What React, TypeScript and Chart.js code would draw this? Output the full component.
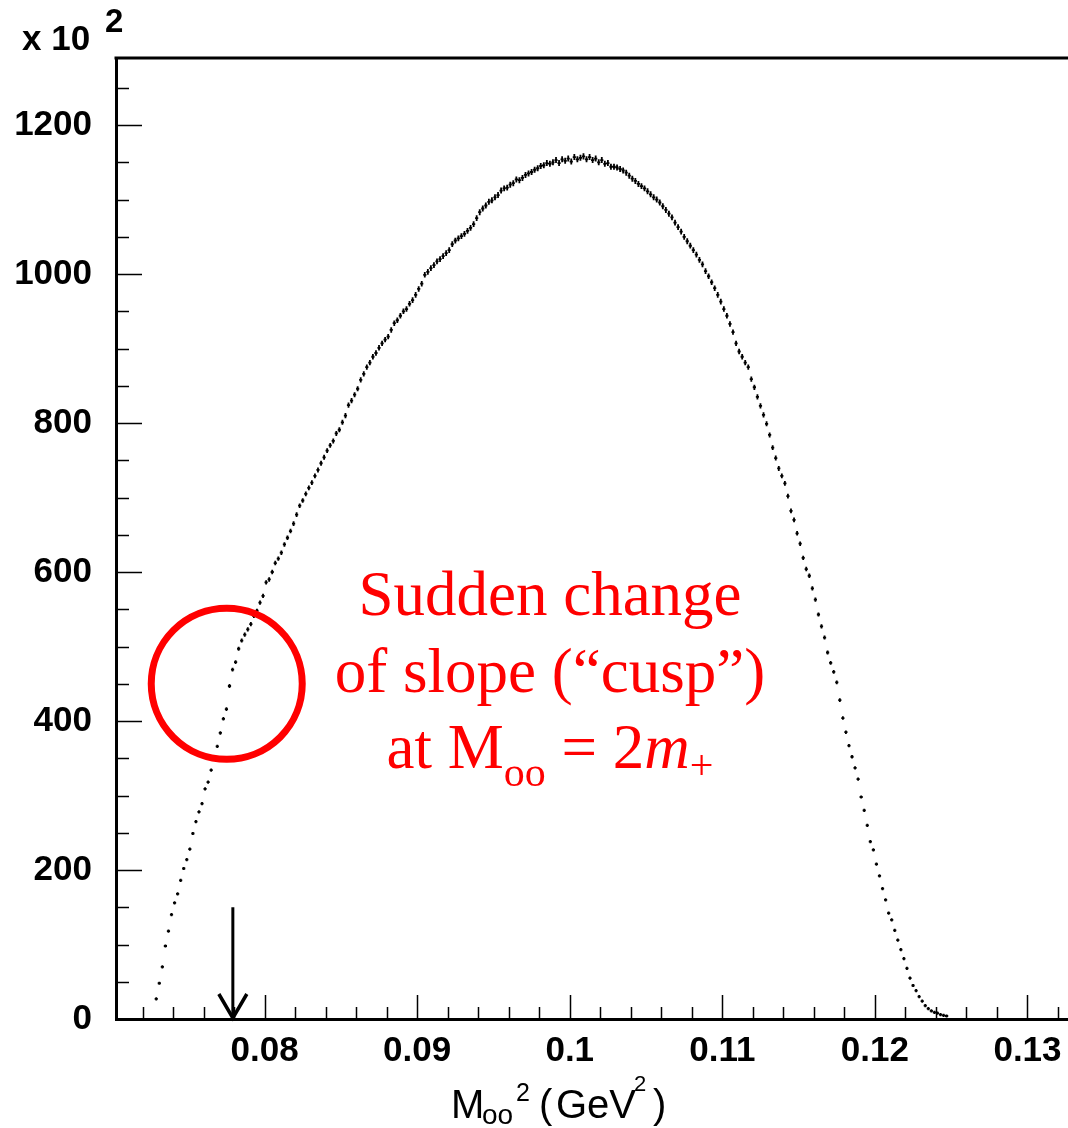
import React, { useEffect, useRef } from "react";
import { Chart, registerables } from "chart.js";

Chart.register(...registerables);

// ---- data (histogram, units of 10^2 entries) ----
const BIN_START = 0.0729; // centre of first bin (GeV^2)
const BIN_WIDTH = 0.0002; // GeV^2
const counts = [
  27, 48, 70, 98, 118, 140, 156, 168, 186, 202,
  214, 228, 249, 265, 278, 289, 309, 318, 334, 352,
  366, 384, 403, 416, 447, 469, 479, 497, 508, 516,
  523, 530, 541, 548, 559, 568, 586, 590, 600, 612,
  618, 626, 637, 646, 655, 665, 677, 689, 696, 705,
  713, 720, 729, 737, 746, 754, 763, 770, 776, 786,
  791, 801, 810, 824, 830, 838, 846, 858, 866, 875,
  881, 889, 894, 901, 907, 912, 916, 925, 934, 938,
  944, 950, 953, 960, 965, 972, 980, 987, 999, 1003,
  1008, 1012, 1017, 1020, 1024, 1028, 1032, 1040, 1045, 1048,
  1051, 1054, 1058, 1062, 1067, 1075, 1083, 1088, 1092, 1097,
  1099, 1103, 1106, 1112, 1115, 1116, 1120, 1122, 1127, 1126,
  1129, 1133, 1135, 1137, 1140, 1142, 1145, 1146, 1149, 1148,
  1150, 1153, 1149, 1154, 1152, 1155, 1151, 1157, 1154, 1156,
  1158, 1154, 1157, 1153, 1155, 1150, 1153, 1148, 1149, 1144,
  1144, 1143, 1141, 1139, 1136, 1132, 1128, 1125, 1121, 1118,
  1115, 1111, 1107, 1103, 1100, 1096, 1091, 1086, 1081, 1076,
  1069, 1063, 1057, 1050, 1044, 1038, 1032, 1026, 1019, 1013,
  1004, 997, 989, 981, 972, 963, 953, 944, 933, 922,
  907, 896, 889, 881, 875, 859, 848, 835, 823, 811,
  799, 784, 767, 753, 739, 729, 719, 702, 682, 670,
  652, 638, 619, 604, 595, 578, 563, 543, 527, 512,
  492, 478, 466, 452, 428, 404, 385, 367, 352, 337,
  322, 298, 280, 260, 238, 227, 208, 192, 175, 160,
  142, 133, 119, 106, 93, 81, 68, 55, 45, 38,
  30, 24, 18, 14, 11, 9, 8, 6, 5, 4,
];

const xTicks = [0.08, 0.09, 0.1, 0.11, 0.12, 0.13];
const xTickLabels = ["0.08", "0.09", "0.1", "0.11", "0.12", "0.13"];
const yTicks = [0, 200, 400, 600, 800, 1000, 1200];
const yTickLabels = ["0", "200", "400", "600", "800", "1000", "1200"];

const X_MIN = 0.070262;
const X_MAX = 0.132655;
const Y_MAX = 1290;

const CUSP_X = 0.07792; // (2 m+)^2
const ARROW_TOP = 150;
const CIRCLE_X = 0.07752;
const CIRCLE_Y = 450;

const noteLine1 = "Sudden change";
const noteLine2 = "of slope (\u201Ccusp\u201D)";

const SANS = '"Liberation Sans", Arial, Helvetica, sans-serif';
const SERIF = '"Liberation Serif", "Times New Roman", serif';

function drawSegments(ctx: CanvasRenderingContext2D, segs: any[], startX: number, center: boolean) {
  let total = 0;
  for (const s of segs) {
    ctx.font = s.font;
    total += ctx.measureText(s.text).width;
  }
  let x = center ? startX - total / 2 : startX;
  ctx.textAlign = "left";
  ctx.textBaseline = "alphabetic";
  for (const s of segs) {
    ctx.font = s.font;
    ctx.fillText(s.text, x, s.y);
    x += ctx.measureText(s.text).width;
  }
}

const decor = {
  id: "decor",
  afterDatasetsDraw(chart: any) {
    const { ctx, chartArea: a, scales } = chart;
    const xs = scales.x;
    const ys = scales.y;
    ctx.save();

    // histogram points with error crosses
    const meta = chart.getDatasetMeta(0);
    ctx.strokeStyle = "#000";
    ctx.lineWidth = 1.8;
    ctx.beginPath();
    meta.data.forEach((pt: any, i: number) => {
      const v = counts[i];
      const cx = BIN_START + i * BIN_WIDTH;
      const hx = Math.max(1.6, (xs.getPixelForValue(cx + BIN_WIDTH / 2) - pt.x) * 0.8);
      const err = Math.sqrt(v * 100) / 100;
      const ey = Math.max(1.6, Math.abs(ys.getPixelForValue(v + err) - pt.y) * 1.2);
      ctx.moveTo(pt.x - hx, pt.y);
      ctx.lineTo(pt.x + hx, pt.y);
      ctx.moveTo(pt.x, pt.y - ey);
      ctx.lineTo(pt.x, pt.y + ey);
    });
    ctx.stroke();

    // inward tick marks
    ctx.lineWidth = 1.5;
    ctx.beginPath();
    for (let k = 0; k * 50 <= Y_MAX; k++) {
      const py = Math.round(ys.getPixelForValue(k * 50)) + 0.5;
      const len = k % 4 === 0 ? 26 : 13;
      ctx.moveTo(a.left, py);
      ctx.lineTo(a.left + len, py);
    }
    const k0 = Math.ceil(X_MIN / 0.002 - 1e-6);
    const k1 = Math.floor(X_MAX / 0.002 + 1e-6);
    for (let k = k0; k <= k1; k++) {
      const px = Math.round(xs.getPixelForValue(k * 0.002)) + 0.5;
      const len = k % 5 === 0 ? 24 : 12;
      ctx.moveTo(px, a.bottom);
      ctx.lineTo(px, a.bottom - len);
    }
    ctx.stroke();

    // top frame
    ctx.lineWidth = 3;
    ctx.beginPath();
    ctx.moveTo(a.left - 1.5, a.top);
    ctx.lineTo(a.right + 2, a.top);
    ctx.stroke();

    // arrow at 2m+
    const ax = xs.getPixelForValue(CUSP_X);
    const atop = ys.getPixelForValue(ARROW_TOP);
    ctx.lineWidth = 3;
    ctx.beginPath();
    ctx.moveTo(ax, atop);
    ctx.lineTo(ax, a.bottom);
    ctx.stroke();
    ctx.lineWidth = 3.5;
    ctx.beginPath();
    ctx.moveTo(ax - 14, a.bottom - 25);
    ctx.lineTo(ax, a.bottom - 1);
    ctx.lineTo(ax + 14, a.bottom - 25);
    ctx.stroke();

    // red circle
    ctx.strokeStyle = "#ff0000";
    ctx.lineWidth = 7;
    ctx.beginPath();
    ctx.arc(xs.getPixelForValue(CIRCLE_X), ys.getPixelForValue(CIRCLE_Y), 75.5, 0, Math.PI * 2);
    ctx.stroke();

    // red annotation text
    ctx.fillStyle = "#ff0000";
    ctx.font = `63px ${SERIF}`;
    ctx.textAlign = "center";
    ctx.textBaseline = "alphabetic";
    ctx.fillText(noteLine1, 550, 615);
    ctx.fillText(noteLine2, 550, 692);
    drawSegments(
      ctx,
      [
        { text: "at M", font: `63px ${SERIF}`, y: 768 },
        { text: "oo", font: `42px ${SERIF}`, y: 786 },
        { text: " = 2", font: `63px ${SERIF}`, y: 768 },
        { text: "m", font: `italic 63px ${SERIF}`, y: 768 },
        { text: "+", font: `42px ${SERIF}`, y: 779 },
      ],
      550,
      true
    );

    // axis title (placed piece by piece)
    ctx.fillStyle = "#000";
    ctx.textAlign = "left";
    ctx.textBaseline = "alphabetic";
    const titleParts = [
      { text: "M", font: `40px ${SANS}`, x: 451, y: 1118 },
      { text: "oo", font: `28px ${SANS}`, x: 482, y: 1124 },
      { text: "2", font: `25px ${SANS}`, x: 516, y: 1101 },
      { text: "(", font: `40px ${SANS}`, x: 539, y: 1118 },
      { text: "GeV", font: `40px ${SANS}`, x: 556, y: 1118 },
      { text: "2", font: `22px ${SANS}`, x: 634, y: 1091 },
      { text: ")", font: `40px ${SANS}`, x: 653, y: 1118 },
    ];
    for (const p of titleParts) {
      ctx.font = p.font;
      ctx.fillText(p.text, p.x, p.y);
    }

    // exponent label
    ctx.font = `bold 35px ${SANS}`;
    ctx.fillText("x 10", 22, 50);
    ctx.font = `bold 33px ${SANS}`;
    ctx.fillText("2", 105, 32);

    ctx.restore();
  },
};

export default function App() {
  const ref = useRef<HTMLCanvasElement | null>(null);

  useEffect(() => {
    if (!ref.current) return;
    const chart = new Chart(ref.current, {
      type: "scatter",
      data: {
        datasets: [
          {
            data: counts.map((c, i) => ({ x: BIN_START + i * BIN_WIDTH, y: c })),
            pointRadius: 0,
            showLine: false,
            borderColor: "#000",
            backgroundColor: "#000",
          },
        ],
      },
      options: {
        animation: false,
        responsive: false,
        layout: { padding: { top: 58, right: 0, left: 0, bottom: 0 } },
        plugins: { legend: { display: false }, tooltip: { enabled: false } },
        scales: {
          x: {
            type: "linear",
            min: X_MIN,
            max: X_MAX,
            afterFit: (s: any) => {
              s.height = 109;
              s.paddingLeft = 0;
              s.paddingRight = 0;
            },
            afterBuildTicks: (s: any) => {
              s.ticks = xTicks.map((v) => ({ value: v }));
            },
            grid: { display: false, drawTicks: false },
            border: { display: true, color: "#000", width: 3 },
            ticks: {
              callback: (_v: any, i: number) => xTickLabels[i],
              font: { family: SANS, size: 35, weight: "bold" },
              color: "#000",
              padding: 11,
              maxRotation: 0,
              autoSkip: false,
            },
          },
          y: {
            type: "linear",
            min: 0,
            max: Y_MAX,
            afterFit: (s: any) => {
              s.width = 116;
              s.paddingTop = 0;
              s.paddingBottom = 0;
            },
            afterBuildTicks: (s: any) => {
              s.ticks = yTicks.map((v) => ({ value: v }));
            },
            grid: { display: false, drawTicks: false },
            border: { display: true, color: "#000", width: 3 },
            ticks: {
              callback: (_v: any, i: number) => yTickLabels[i],
              font: { family: SANS, size: 35, weight: "bold" },
              color: "#000",
              padding: 24,
              autoSkip: false,
            },
          },
        },
      },
      plugins: [decor],
    } as any);
    return () => chart.destroy();
  }, []);

  return (
    <div style={{ position: "absolute", left: 0, top: 0, width: 1068, height: 1128, background: "#fff" }}>
      <canvas ref={ref} width={1068} height={1128} style={{ display: "block" }} />
    </div>
  );
}
